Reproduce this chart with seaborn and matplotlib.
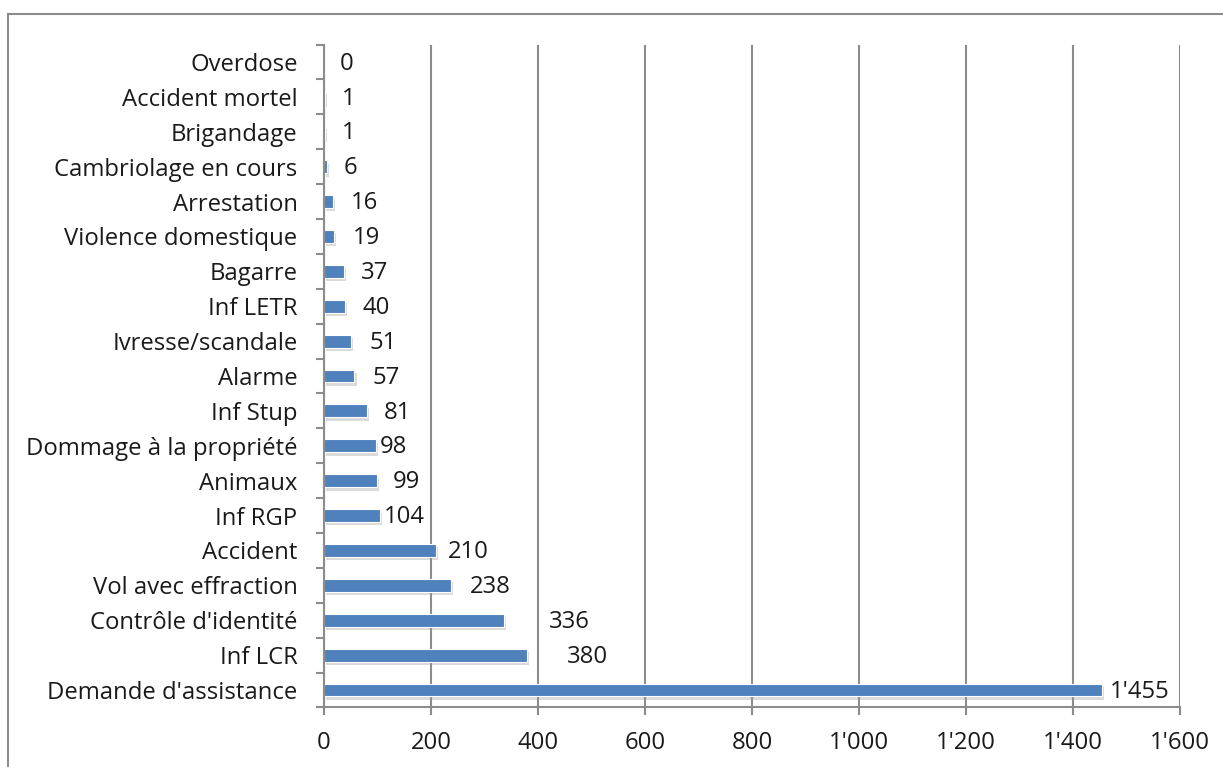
import numpy as np
import pandas as pd
import matplotlib
matplotlib.use("Agg")
import matplotlib.pyplot as plt
import matplotlib.patheffects as pe
from matplotlib.patches import Rectangle
from matplotlib.ticker import FuncFormatter, FixedLocator
import seaborn as sns

# data (top to bottom as in the chart)
categories = ["Overdose", "Accident mortel", "Brigandage", "Cambriolage en cours",
              "Arrestation", "Violence domestique", "Bagarre", "Inf LETR",
              "Ivresse/scandale", "Alarme", "Inf Stup", "Dommage à la propriété",
              "Animaux", "Inf RGP", "Accident", "Vol avec effraction",
              "Contrôle d'identité", "Inf LCR", "Demande d'assistance"]
counts = [0, 1, 1, 6, 16, 19, 37, 40, 51, 57, 81, 98, 99, 104, 210, 238, 336, 380, 1455]
x_ticks = [0, 200, 400, 600, 800, 1000, 1200, 1400, 1600]

# gap (px) between bar end and its label, as placed in the original
label_gap_px = [16, 17, 17, 16, 18, 19, 17, 17, 18, 18, 16, 3, 16, 4, 12, 19, 45, 40, 7]

BLUE, GRID, INK = "#4F81BD", "#8C8C8C", "#1A1A1A"
FS = 17.2

sns.set_style("white")
plt.rcParams["font.family"] = ["Open Sans", "DejaVu Sans"]

df = pd.DataFrame({"cat": categories, "n": counts})

fig = plt.figure(figsize=(12.23, 7.67), dpi=100)
ax = fig.add_axes([0.2649, 0.0777, 0.9648 - 0.2649, 0.9419 - 0.0777])

sns.barplot(data=df, y="cat", x="n", order=categories, color=BLUE, saturation=1,
            width=0.37, edgecolor="white", linewidth=0.8, ax=ax)
for p in ax.patches:
    p.set_path_effects([pe.SimplePatchShadow(offset=(1.5, -2.5), shadow_rgbFace="#9A9A9A", alpha=0.35),
                        pe.Normal()])

fmt = lambda v: f"{int(v):,}".replace(",", "'")
for i, (v, g) in enumerate(zip(counts, label_gap_px)):
    ax.annotate(fmt(v), (v, i), xytext=(g * 0.72, -1.2), textcoords="offset points",
                ha="left", va="center", fontsize=FS, color=INK)

ax.set_xlim(0, 1600)
ax.set_ylim(len(categories) - 0.5, -0.5)
ax.xaxis.set_major_locator(FixedLocator(x_ticks))
ax.xaxis.set_major_formatter(FuncFormatter(lambda v, _: fmt(v)))
ax.grid(axis="x", color=GRID, lw=1.5)
ax.set_axisbelow(True)
ax.set_xlabel("")
ax.set_ylabel("")

for s in ["top", "right"]:
    ax.spines[s].set_visible(False)
for s in ["left", "bottom"]:
    ax.spines[s].set_color(GRID)
    ax.spines[s].set_linewidth(1.5)

ax.yaxis.set_minor_locator(FixedLocator(np.arange(-0.5, len(categories), 1.0)))
ax.tick_params(axis="y", which="major", length=0, pad=19, labelsize=FS, labelcolor=INK)
ax.tick_params(axis="y", which="minor", length=6, width=1.5, color=GRID, direction="out", left=True)
ax.tick_params(axis="x", which="major", length=6, width=1.5, color=GRID, direction="out",
               bottom=True, pad=11, labelsize=FS, labelcolor=INK)

# outer chart frame (right and bottom edges fall outside the image)
fig.patches.append(Rectangle((8 / 1223, -0.1), 1.5, 1 - 14 / 767 + 0.1, transform=fig.transFigure,
                             fill=False, edgecolor="#8C8C8C", lw=1.5))

plt.savefig("out.png", dpi=100)
